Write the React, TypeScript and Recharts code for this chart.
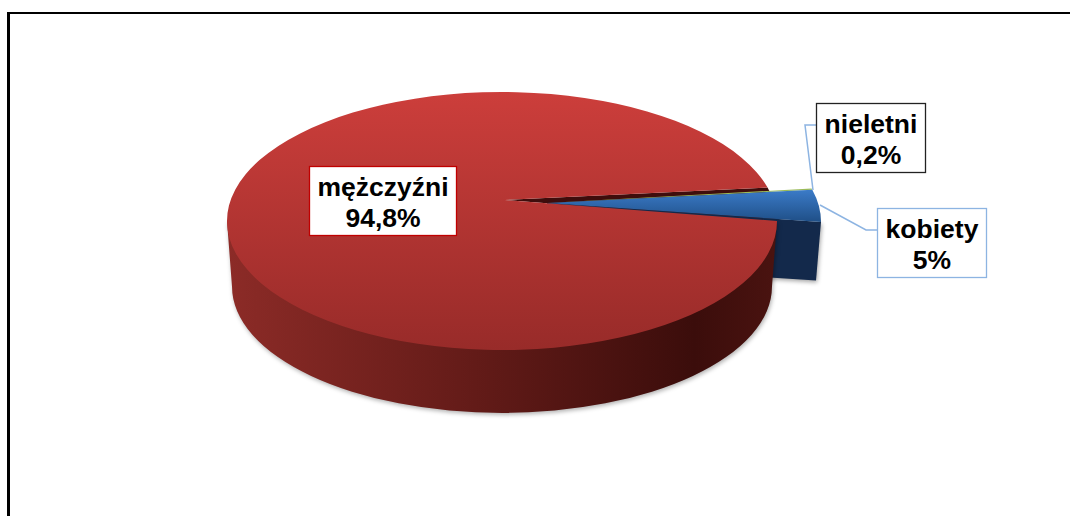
import { Pie, PieChart } from "recharts";

const categories = ["mężczyźni", "nieletni", "kobiety"];
const shares = [94.8, 0.2, 5];

const slices = categories.map((name, i) => ({ name, value: shares[i] }));
// same cyclic order, the back layer has to paint the red notch first
const backSlices = slices;
const topSlices = [slices[1], slices[2], slices[0]];

const W = 1070;
const H = 516;
const CX = 502;
const CY = 221;
const RX = 275;
const RY = 129;
const APEX = { x: 505, y: 200 };
const LOWER = { cy: 286.5, rx: 270, ry: 126.5 };
// the far side of the disc is squeezed by the perspective
const FORESHORTEN = 0.2;

const exploded: Record<string, { rim: number; rimDy: number; apexX: number; apexY: number; lowerDy: number }> = {
  kobiety: { rim: 44, rimDy: 1, apexX: 42, apexY: 3, lowerDy: -6 },
  nieletni: { rim: 44, rimDy: 1, apexX: 42, apexY: 3, lowerDy: -6 },
};

const labelLayout: Record<string, { x: number; y: number; w: number; h: number; border: string; leader?: string }> = {
  "mężczyźni": { x: 309.5, y: 166.5, w: 147, h: 69, border: "#c00000" },
  nieletni: { x: 816.5, y: 103.5, w: 109, h: 69, border: "#222222", leader: "813,190 805,125 816,125" },
  kobiety: { x: 877.5, y: 208.5, w: 109, h: 69, border: "#8db4e2", leader: "820,205 866,230 877,230" },
};

const warp = (deg: number) => deg - FORESHORTEN * (180 / Math.PI) * Math.sin((deg * Math.PI) / 180);

const rim = (deg: number, dx = 0, dy = 0, cy = CY, rx = RX, ry = RY) => {
  const t = (warp(deg) * Math.PI) / 180;
  return { x: CX + dx + rx * Math.cos(t), y: cy + dy - ry * Math.sin(t) };
};

const BackShape = (props: any) => {
  const { name, startAngle, endAngle } = props;
  if (name === "mężczyźni") {
    const a = rim(endAngle);
    const b = rim(startAngle);
    return (
      <path
        d={`M${APEX.x},${APEX.y} L${a.x},${a.y} A${RX},${RY} 0 0 1 ${b.x},${b.y} Z`}
        fill="#3f0d0c"
      />
    );
  }
  if (name === "kobiety") {
    const e = exploded[name];
    const ax = APEX.x + e.apexX;
    const ay = APEX.y + e.apexY;
    const a = rim(endAngle, e.rim, e.rimDy);
    const b = rim(endAngle, e.rim, e.lowerDy, LOWER.cy, LOWER.rx, LOWER.ry);
    return (
      <path
        d={`M${ax},${ay} L${a.x},${a.y} L${b.x},${b.y} L${ax},${ay + 60} Z`}
        fill="#13294b"
        style={{ filter: "drop-shadow(1px 2px 2px rgba(0,0,0,0.35))" }}
      />
    );
  }
  return null;
};

const TopShape = (props: any) => {
  const { name, startAngle, endAngle, fill } = props;
  const e = exploded[name];
  const dx = e ? e.rim : 0;
  const dy = e ? e.rimDy : 0;
  const ax = APEX.x + (e ? e.apexX : 0);
  const ay = APEX.y + (e ? e.apexY : 0);
  const a = rim(startAngle, dx, dy);
  const b = rim(endAngle, dx, dy);
  const large = Math.abs(startAngle - endAngle) > 180 ? 1 : 0;
  const top = <path d={`M${ax},${ay} L${a.x},${a.y} A${RX},${RY} 0 ${large} 1 ${b.x},${b.y} Z`} fill={fill} />;
  if (name !== "mężczyźni") return top;
  const l = rim(startAngle, 0, 0, LOWER.cy, LOWER.rx, LOWER.ry);
  // straight top edge, it stays hidden under the top face so no seam shows
  return (
    <g>
      <path
        d={`M${a.x},${a.y} L${CX - RX},${CY} L${CX - LOWER.rx},${LOWER.cy} A${LOWER.rx},${LOWER.ry} 0 0 0 ${l.x},${l.y} Z`}
        fill="url(#redSide)"
        style={{ filter: "drop-shadow(1px 2px 2px rgba(0,0,0,0.3))" }}
      />
      {top}
    </g>
  );
};

const sliceFill = (name: string) =>
  name === "mężczyźni" ? "url(#redTop)" : name === "kobiety" ? "url(#blueTop)" : "#9bbb59";

const renderLabel = (props: any) => {
  const { name, value } = props;
  const box = labelLayout[name];
  const mid = box.x + box.w / 2;
  return (
    <g>
      {box.leader && <polyline points={box.leader} fill="none" stroke="#8db4e2" strokeWidth={1.5} />}
      <rect x={box.x} y={box.y} width={box.w} height={box.h} fill="#ffffff" stroke={box.border} strokeWidth={1.3} />
      <text
        x={mid}
        textAnchor="middle"
        fontFamily="'Liberation Sans', Arial, sans-serif"
        fontWeight="bold"
        fontSize={26.5}
        fill="#000000"
      >
        <tspan x={mid} y={box.y + 29}>{name}</tspan>
        <tspan x={mid} y={box.y + 60}>{`${String(value).replace(".", ",")}%`}</tspan>
      </text>
    </g>
  );
};

export default function App() {
  return (
    <div style={{ position: "absolute", left: 0, top: 0, width: W, height: H, overflow: "hidden", background: "#fff" }}>
      <div
        style={{
          position: "absolute",
          left: 7,
          top: 12,
          width: W,
          height: H,
          borderLeft: "3px solid #000",
          borderTop: "2px solid #000",
        }}
      />
      <div style={{ position: "absolute", left: 0, top: 0 }}>
        <PieChart width={W} height={H} margin={{ top: 0, right: 0, bottom: 0, left: 0 }}>
          <defs>
            <linearGradient id="redTop" x1="0" y1="0" x2="0" y2="1">
              <stop offset="0%" stopColor="#cc3e3b" />
              <stop offset="100%" stopColor="#982b29" />
            </linearGradient>
            <linearGradient id="redSide" x1="0" y1="0" x2="1" y2="0">
              <stop offset="0%" stopColor="#8c2b27" />
              <stop offset="45%" stopColor="#631b18" />
              <stop offset="85%" stopColor="#3b0d0b" />
              <stop offset="100%" stopColor="#4a1310" />
            </linearGradient>
            <linearGradient id="blueTop" x1="0" y1="0" x2="0" y2="1">
              <stop offset="0%" stopColor="#3b7bc8" />
              <stop offset="100%" stopColor="#1f4f87" />
            </linearGradient>
          </defs>
          <Pie
            data={backSlices}
            dataKey="value"
            nameKey="name"
            cx={CX}
            cy={CY}
            outerRadius={RX}
            startAngle={0}
            endAngle={-360}
            stroke="none"
            shape={BackShape}
            isAnimationActive={false}
          />
          <Pie
            data={topSlices.map((d) => ({ ...d, fill: sliceFill(d.name) }))}
            dataKey="value"
            nameKey="name"
            cx={CX}
            cy={CY}
            outerRadius={RX}
            startAngle={18.72}
            endAngle={18.72 - 360}
            stroke="none"
            shape={TopShape}
            label={renderLabel}
            labelLine={false}
            isAnimationActive={false}
          />
        </PieChart>
      </div>
    </div>
  );
}
